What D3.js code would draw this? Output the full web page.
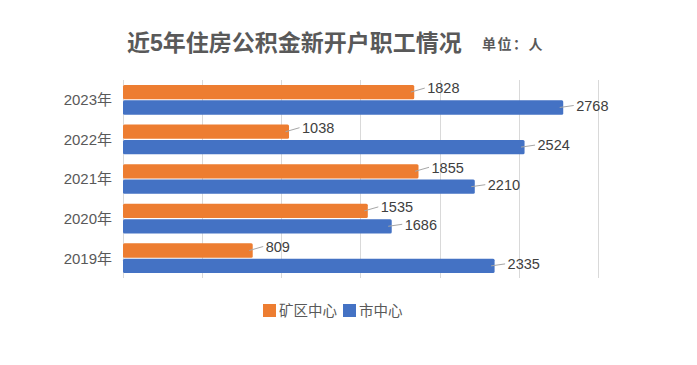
<!DOCTYPE html>
<html><head><meta charset="utf-8">
<script src="https://cdn.jsdelivr.net/npm/d3@7"></script>
<style>
html,body{margin:0;padding:0;background:#fff;}
text{font-family:"Liberation Sans","Noto Sans CJK SC",sans-serif;}
</style></head>
<body><svg id="c" width="697" height="365"></svg>
<script>
const categories = ["2023年","2022年","2021年","2020年","2019年"];
const seriesNames = ["矿区中心","市中心"];
const kuangqu = [1828,1038,1855,1535,809];
const shi = [2768,2524,2210,1686,2335];
const xTicks = [0,500,1000,1500,2000,2500,3000];
const colors = ["#ED7D31","#4472C4"];

const svg = d3.select("#c");
const x = d3.scaleLinear().domain([0,3000]).range([123,598.5]);
const y = d3.scaleBand().domain(categories).range([80,278]).paddingInner(0.25).paddingOuter(0.125);
const ys = d3.scaleBand().domain(seriesNames).range([0,y.bandwidth()]).paddingInner(0.07);

// gridlines
svg.append("g").selectAll("line").data(xTicks).join("line")
  .attr("x1",d=>x(d)).attr("x2",d=>x(d)).attr("y1",80).attr("y2",278)
  .attr("stroke","#d9d9d9").attr("stroke-width",1).attr("shape-rendering","crispEdges");

// y labels
svg.append("g").selectAll("text").data(categories).join("text")
  .attr("x",112).attr("y",d=>y(d)+y.bandwidth()/2).attr("dy","0.36em")
  .attr("text-anchor","end").attr("font-size",15).attr("fill","#595959").text(d=>d);

const series = [kuangqu, shi];
series.forEach((vals,si)=>{
  const g = svg.append("g");
  const data = categories.map((c,i)=>({c,v:vals[i]}));
  g.selectAll("rect").data(data).join("rect")
    .attr("x",x(0)).attr("y",d=>y(d.c)+ys(seriesNames[si]))
    .attr("width",d=>x(d.v)-x(0)+1.5).attr("height",ys.bandwidth())
    .attr("rx",1.5).attr("fill",colors[si]);
  const dy = si===0 ? -4 : -2;
  g.selectAll("line").data(data).join("line")
    .attr("x1",d=>x(d.v)-2).attr("x2",d=>x(d.v)+12)
    .attr("y1",d=>y(d.c)+ys(seriesNames[si])+ys.bandwidth()/2)
    .attr("y2",d=>y(d.c)+ys(seriesNames[si])+ys.bandwidth()/2+dy)
    .attr("stroke","#a6a6a6").attr("stroke-width",1);
  g.selectAll("text").data(data).join("text")
    .attr("x",d=>x(d.v)+14.5)
    .attr("y",d=>y(d.c)+ys(seriesNames[si])+ys.bandwidth()/2+dy).attr("dy","0.36em")
    .attr("font-size",14.5).attr("fill","#404040").text(d=>d.v);
});

// title
svg.append("text").attr("x",127).attr("y",51).attr("font-size",23).attr("font-weight","bold")
  .attr("fill","#595959").text("近5年住房公积金新开户职工情况");
svg.append("text").attr("x",482).attr("y",49).attr("font-size",14).attr("font-weight","bold")
  .attr("fill","#595959").attr("letter-spacing",1.5).text("单位：人");

// legend
const lg = svg.append("g");
const lx = [263,343];
seriesNames.forEach((n,i)=>{
  lg.append("rect").attr("x",lx[i]).attr("y",304).attr("width",13).attr("height",13).attr("fill",colors[i]);
  lg.append("text").attr("x",lx[i]+16).attr("y",311).attr("dy","0.36em").attr("font-size",14.5)
    .attr("fill","#595959").text(n);
});
</script></body></html>
